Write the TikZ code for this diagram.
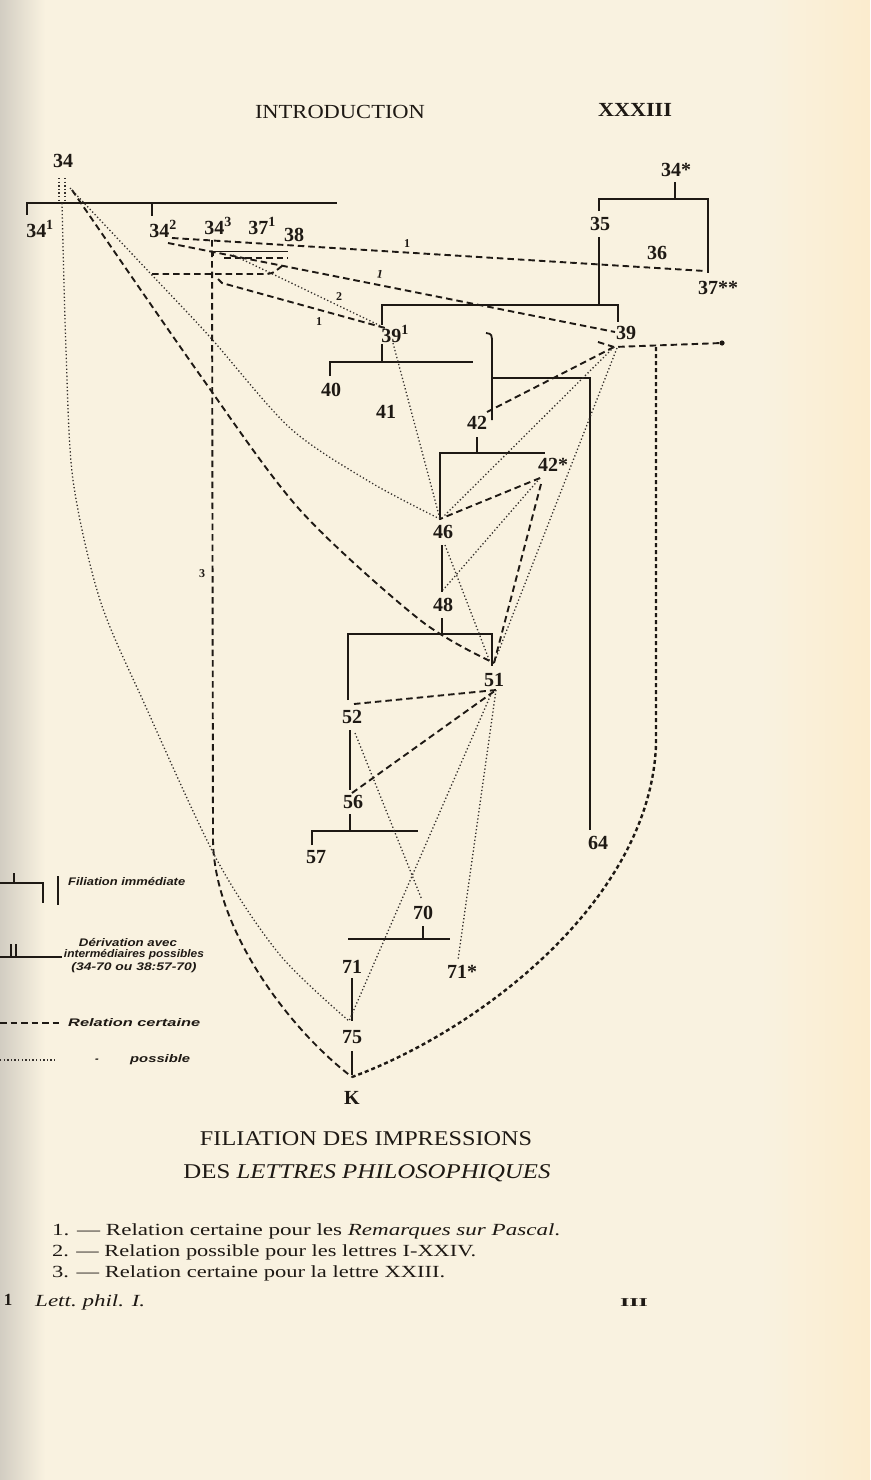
\documentclass[tikz,border=0pt]{standalone}
\usepackage{fontspec}
\setmainfont{Liberation Serif}
\setsansfont{Liberation Sans}
\definecolor{paper}{RGB}{249,242,224}
\definecolor{paperR}{RGB}{251,236,206}
\definecolor{gutter}{RGB}{210,205,194}
\definecolor{ink}{RGB}{30,25,20}
\begin{document}
\begin{tikzpicture}[x=1pt,y=-1pt,
  lbl/.style={font=\fontsize{20}{20}\selectfont\bfseries, inner sep=0pt, text=ink},
  small/.style={font=\fontsize{12}{12}\selectfont\bfseries, inner sep=0pt, text=ink},
  sol/.style={draw=ink, line width=1.8pt},
  cert/.style={draw=ink, line width=1.9pt, dash pattern=on 6.5pt off 4pt},
  cert2/.style={draw=ink, line width=2.4pt, dash pattern=on 4pt off 3pt},
  poss/.style={draw=ink!90, line width=1.3pt, dash pattern=on 1.3pt off 2.3pt},
  lgd/.style={font=\fontsize{11}{11}\selectfont\sffamily\bfseries\itshape, inner sep=0pt, text=ink},
  txt/.style={inner sep=0pt, text=ink},
]
\useasboundingbox (0,0) rectangle (870,1480);
\fill[paper] (0,0) rectangle (870,1480);
\shade[left color=gutter, right color=paper] (0,0) rectangle (45,1480);
\shade[left color=paper, right color=paperR] (760,0) rectangle (870,1480);

% header
\node[txt, font=\fontsize{20}{20}\selectfont] (hdr) at (340,112) {\resizebox{170pt}{\height}{INTRODUCTION}};
\node[txt, font=\fontsize{20}{20}\selectfont\bfseries] (pgno) at (635,110) {\resizebox{74pt}{\height}{XXXIII}};

% ---------- labels ----------
\node[lbl] (n34) at (63,161) {34};
\node[lbl] (n34a) at (40,229) {34\textsuperscript{1}};
\node[lbl] (n34b) at (163,229) {34\textsuperscript{2}};
\node[lbl] (n34c) at (218,226) {34\textsuperscript{3}};
\node[lbl] (n37a) at (262,226) {37\textsuperscript{1}};
\node[lbl] (n38) at (294,235) {38};
\node[lbl] (n34s) at (676,170) {34*};
\node[lbl] (n35) at (600,224) {35};
\node[lbl] (n36) at (657,253) {36};
\node[lbl] (n37s) at (718,288) {37**};
\node[lbl] (n39a) at (395,334) {39\textsuperscript{1}};
\node[lbl] (n39) at (626,333) {39};
\node[lbl] (n40) at (331,390) {40};
\node[lbl] (n41) at (386,412) {41};
\node[lbl] (n42) at (477,423) {42};
\node[lbl] (n42s) at (553,465) {42*};
\node[lbl] (n46) at (443,532) {46};
\node[lbl] (n48) at (443,605) {48};
\node[lbl] (n51) at (494,680) {51};
\node[lbl] (n52) at (352,717) {52};
\node[lbl] (n56) at (353,802) {56};
\node[lbl] (n57) at (316,857) {57};
\node[lbl] (n64) at (598,843) {64};
\node[lbl] (n70) at (423,913) {70};
\node[lbl] (n71) at (352,967) {71};
\node[lbl] (n71s) at (462,972) {71*};
\node[lbl] (n75) at (352,1037) {75};
\node[lbl] (nK) at (352,1098) {K};

% ---------- solid filiation brackets ----------
\draw[poss] (59,178) -- (59,202);
\draw[poss] (65,178) -- (65,202);
\draw[sol] (26,203) -- (337,203);
\draw[sol] (27,203) -- (27,215);
\draw[sol] (152,203) -- (152,216);

\draw[sol] (675,182) -- (675,199);
\draw[sol] (599,211) -- (599,199) -- (708,199) -- (708,273);
\draw[sol] (599,237) -- (599,305);
\draw[sol] (382,325) -- (382,305) -- (618,305) -- (618,322);

\draw[sol] (382,344) -- (382,362);
\draw[sol] (330,376) -- (330,362) -- (473,362);
\draw[sol] (486,333) .. controls (492,334) .. (492,345) -- (492,420);
\draw[sol] (492,378) -- (590,378) -- (590,830);

\draw[sol] (477,437) -- (477,453);
\draw[sol] (440,520) -- (440,453) -- (545,453);
\draw[sol] (442,545) -- (442,592);
\draw[sol] (442,618) -- (442,634);
\draw[sol] (348,700) -- (348,634) -- (492,634) -- (492,666);
\draw[sol] (350,730) -- (350,790);
\draw[sol] (350,814) -- (350,831);
\draw[sol] (312,845) -- (312,831) -- (418,831);

\draw[sol] (423,926) -- (423,939);
\draw[sol] (348,939) -- (450,939);
\draw[sol] (352,978) -- (352,1021);
\draw[sol] (352,1051) -- (352,1075);

% ---------- named end points ----------
\coordinate (c34a) at (72,190);
\coordinate (c34b) at (70,188);
\coordinate (c34c) at (62,203);
\coordinate (c34d) at (172,238);
\coordinate (c34e) at (168,243);
\coordinate (c34f) at (212,240);
\coordinate (c37s) at (705,271);
\coordinate (c39w) at (615,332);
\coordinate (c39s) at (614,347);
\coordinate (c39a) at (385,328);
\coordinate (c39ab) at (393,343);
\coordinate (c42) at (487,412);
\coordinate (c42s) at (540,478);
\coordinate (c46n) at (440,519);
\coordinate (c46s) at (445,545);
\coordinate (c48) at (443,590);
\coordinate (c51n) at (494,663);
\coordinate (c51) at (496,690);
\coordinate (c52) at (354,704);
\coordinate (c52s) at (355,733);
\coordinate (c56) at (352,793);
\coordinate (c70) at (422,900);
\coordinate (c71s) at (458,960);
\coordinate (c75) at (349,1021);
\coordinate (cK) at (352,1077);
\coordinate (cDot) at (722,343);

% ---------- certain relations (dashed) ----------
\draw[cert] (c34d) -- (c37s);
\node[small] (lab1a) at (407,244) {1};
\draw[cert] (c34e) -- (c39w);
\node[small, rotate=-12] (lab1b) at (380,274) {1};
\draw[cert] (152,274) -- (262,274) .. controls (272,274) .. (282,266);
\draw[sol, line width=1pt] (213,256) -- (213,251) -- (288,251);
\draw[cert, line width=1.2pt] (224,258) -- (288,258);
\draw[cert] (218,279) -- (222,283) -- (c39a);
\node[small] (lab1c) at (319,322) {1};
\draw[cert] (c34f) -- (213,840) .. controls (214,930) and (290,1030) .. (cK);
\node[small] (lab3) at (202,574) {3};
\draw[cert] plot[smooth] coordinates {(c34a) (200,375) (300,510) (420,620) (c51n)};
\draw[cert] (598,342) -- (c39s) -- (cDot);
\fill[ink] (cDot) circle (2.6);
\draw[cert2] (656,347) -- (656,745) .. controls (650,900) and (480,1030) .. (cK);
\draw[cert] (c39s) -- (c42);
\draw[cert] (c42s) -- (c46n);
\draw[cert] (541,484) -- (c51n);
\draw[cert] (c52) -- (c51);
\draw[cert] (c56) -- (c51);

% ---------- possible relations (dotted) ----------
\draw[poss] plot[smooth] coordinates {(c34c) (66,350) (73,480) (100,600) (145,705) (217,860) (280,955) (c75)};
\draw[poss] plot[smooth] coordinates {(c34b) (150,273) (210,337) (290,428) (370,482) (c46n)};
\draw[poss] (233,255) -- (c39a);
\node[small] (lab2) at (339,297) {2};
\draw[poss] (c39ab) -- (c46n);
\draw[poss] (c39s) -- (443,517);
\draw[poss] (617,348) -- (c51n);
\draw[poss] (c42s) -- (c48);
\draw[poss] (c46s) -- (490,662);
\draw[poss] (492,692) -- (c75);
\draw[poss] (c51) -- (c71s);
\draw[poss] (c52s) -- (c70);

% ---------- legend ----------
\draw[sol, line width=1.3pt] (0,883) -- (43,883) -- (43,903);
\draw[sol, line width=1.3pt] (14,873) -- (14,883);
\draw[sol, line width=1.3pt] (58,876) -- (58,905);
\node[lgd, anchor=west] (lg1) at (68,882) {\resizebox{117pt}{\height}{Filiation immédiate}};
\draw[sol, line width=1.3pt] (0,957) -- (62,957);
\draw[sol, line width=1.2pt] (11,944) -- (11,957);
\draw[sol, line width=1.2pt] (16,944) -- (16,957);
\node[lgd] (lg2a) at (128,943) {\resizebox{98pt}{\height}{Dérivation avec}};
\node[lgd] (lg2b) at (134,955) {\resizebox{140pt}{\height}{intermédiaires possibles}};
\node[lgd] (lg2c) at (134,968) {\resizebox{125pt}{\height}{(34-70 ou 38:57-70)}};
\draw[cert, line width=1.3pt] (0,1023) -- (62,1023);
\node[lgd, anchor=west] (lg3) at (68,1023) {\resizebox{132pt}{\height}{Relation certaine}};
\draw[poss] (0,1060) -- (55,1060);
\node[lgd] (lg4a) at (97,1061) {-};
\node[lgd, anchor=west] (lg4) at (130,1060) {\resizebox{60pt}{\height}{possible}};

% ---------- caption ----------
\node[txt, font=\fontsize{21}{21}\selectfont] (cap1) at (366,1139) {\resizebox{332pt}{\height}{FILIATION DES IMPRESSIONS}};
\node[txt, font=\fontsize{21}{21}\selectfont] (cap2) at (367,1173) {\resizebox{367pt}{\height}{DES \textit{LETTRES PHILOSOPHIQUES}}};

\node[txt, anchor=west, font=\fontsize{17}{17}\selectfont] (f1) at (52,1231) {\resizebox{508pt}{\height}{1. --- Relation certaine pour les \textit{Remarques sur Pascal}.}};
\node[txt, anchor=west, font=\fontsize{17}{17}\selectfont] (f2) at (52,1252) {\resizebox{424pt}{\height}{2. --- Relation possible pour les lettres I-XXIV.}};
\node[txt, anchor=west, font=\fontsize{17}{17}\selectfont] (f3) at (52,1273) {\resizebox{393pt}{\height}{3. --- Relation certaine pour la lettre XXIII.}};

\node[txt, anchor=west, font=\fontsize{17}{17}\selectfont\itshape] (foot) at (35,1302) {\resizebox{110pt}{\height}{Lett.\ phil. I.}};
\node[txt, font=\fontsize{17}{17}\selectfont\bfseries] (sig) at (8,1300) {1};
\node[txt, font=\fontsize{12}{12}\selectfont\bfseries] (sig2) at (634,1303) {\resizebox{28pt}{\height}{III}};
\end{tikzpicture}
\end{document}
